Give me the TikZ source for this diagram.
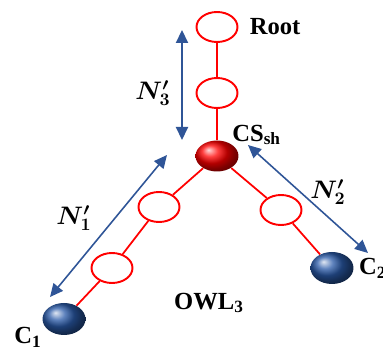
\documentclass[tikz,border=0pt]{standalone}
\usepackage{fontspec}
\setmainfont{Liberation Serif}
\usepackage{amsmath,bm}
\usetikzlibrary{shapes.geometric, arrows.meta, positioning}
\definecolor{lnk}{HTML}{FF0000}
\definecolor{arw}{HTML}{2F5597}
\definecolor{cls}{HTML}{2A5AA8}
\tikzset{
  hop/.style   = {ellipse, draw=lnk, fill=white, line width=1.1pt,
                  minimum width=0.82cm, minimum height=0.6cm, inner sep=0pt},
  shnode/.style= {ellipse, ball color=lnk, minimum width=0.86cm,
                  minimum height=0.62cm, inner sep=0pt},
  clnode/.style= {ellipse, ball color=cls, minimum width=0.86cm,
                  minimum height=0.64cm, inner sep=0pt},
  link/.style  = {draw=lnk, line width=1pt},
  dist/.style  = {{Triangle[length=2.6mm,width=2.4mm]}-{Triangle[length=2.6mm,width=2.4mm]},
                  line width=0.9pt, color=arw},
  lbl/.style   = {font=\fontsize{14}{16}\selectfont\bfseries, inner sep=0pt},
}

\begin{document}
\begin{tikzpicture}[x=0.02cm, y=-0.02cm]
  \useasboundingbox (0,0) rectangle (383,351);

  % tree
  \node[hop]    (root) at (217,27)  {};
  \node[hop]    (m3)   at (217,93)  {};
  \node[shnode] (cssh) at (217,156) {};
  \node[hop]    (l1)   at (159,207) {};
  \node[hop]    (l2)   at (112,268) {};
  \node[clnode] (c1)   at (64,319)  {};
  \node[hop]    (r1)   at (281,210) {};
  \node[clnode] (c2)   at (332,268) {};

  \foreach \i/\j in {root/m3, m3/cssh, cssh/l1, l1/l2, l2/c1, cssh/r1, r1/c2}
    \draw[link] (\i) -- (\j);

  % distances
  \coordinate (n3a) at (182,30);
  \coordinate (n3b) at (182,140);
  \coordinate (n1a) at (50,297);
  \coordinate (n1b) at (167,155);
  \coordinate (n2a) at (248,145);
  \coordinate (n2b) at (368,253);
  \draw[dist, line width=1.2pt] (n3a) -- (n3b);
  \draw[dist] (n1a) -- (n1b);
  \draw[dist] (n2a) -- (n2b);

  % labels
  \node[lbl, right=0.22cm of root] (troot) {Root};
  \node[lbl, anchor=west] (tcs) at (232,135) {CS\textsubscript{sh}};
  \node[lbl, right=0.1cm of c2] (tc2) {C\textsubscript{2}};
  \node[lbl] (tc1) at (28,337) {C\textsubscript{1}};
  \node[lbl] (towl) at (209,303) {OWL\textsubscript{3}};
  \node[lbl] (tn3) at (153,93)  {$\bm{N'_3}$};
  \node[lbl] (tn1) at (74,218)  {$\bm{N'_1}$};
  \node[lbl] (tn2) at (328,192) {$\bm{N'_2}$};

\end{tikzpicture}
\end{document}
